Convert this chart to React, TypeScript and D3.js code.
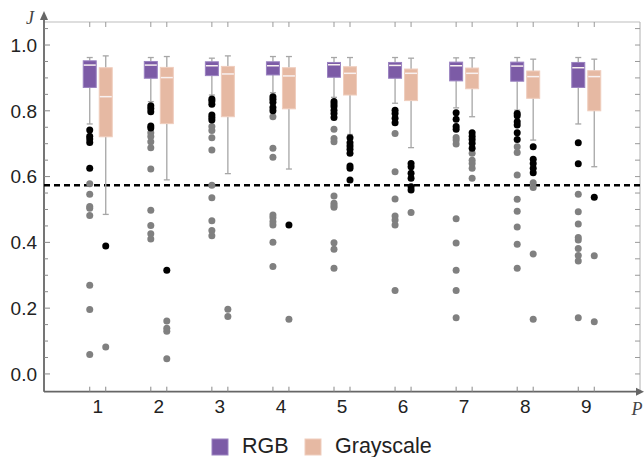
import React from "react";
import * as d3 from "d3";

// P = 1..9, each with an RGB and a Grayscale box
const categories = [1, 2, 3, 4, 5, 6, 7, 8, 9];

// [lower whisker, q1, median, q3, upper whisker]
const rgbStats = [
  [0.76, 0.871, 0.939, 0.952, 0.962],
  [0.828, 0.899, 0.939, 0.95, 0.962],
  [0.848, 0.907, 0.937, 0.949, 0.96],
  [0.855, 0.909, 0.937, 0.949, 0.965],
  [0.841, 0.902, 0.94, 0.947, 0.962],
  [0.823, 0.899, 0.938, 0.947, 0.962],
  [0.809, 0.891, 0.937, 0.948, 0.961],
  [0.802, 0.89, 0.936, 0.948, 0.962],
  [0.76, 0.871, 0.931, 0.947, 0.962],
];
const grayStats = [
  [0.485, 0.721, 0.843, 0.931, 0.967],
  [0.59, 0.761, 0.901, 0.932, 0.965],
  [0.609, 0.782, 0.912, 0.935, 0.967],
  [0.623, 0.806, 0.906, 0.931, 0.965],
  [0.728, 0.848, 0.914, 0.934, 0.962],
  [0.688, 0.831, 0.914, 0.927, 0.96],
  [0.782, 0.867, 0.914, 0.93, 0.961],
  [0.711, 0.838, 0.904, 0.921, 0.957],
  [0.63, 0.8, 0.904, 0.922, 0.957],
];

// near outliers (black) and far outliers (gray)
const rgbNear = [
  [0.742, 0.723, 0.714, 0.704, 0.625],
  [0.815, 0.807, 0.797, 0.754, 0.748],
  [0.836, 0.83, 0.82, 0.787, 0.78, 0.772],
  [0.843, 0.835, 0.826, 0.81, 0.8],
  [0.828, 0.821, 0.813, 0.802, 0.792, 0.78],
  [0.802, 0.792, 0.777, 0.764],
  [0.794, 0.774, 0.752, 0.744],
  [0.792, 0.785, 0.767, 0.757, 0.733, 0.713],
  [0.703, 0.639],
];
const rgbFar = [
  [0.578, 0.546, 0.509, 0.504, 0.482, 0.27, 0.196, 0.059],
  [0.733, 0.722, 0.706, 0.688, 0.623, 0.498, 0.451, 0.426, 0.41],
  [0.752, 0.74, 0.718, 0.681, 0.574, 0.536, 0.466, 0.436, 0.42],
  [0.782, 0.686, 0.659, 0.483, 0.475, 0.463, 0.453, 0.4, 0.327],
  [0.744, 0.716, 0.706, 0.541, 0.519, 0.512, 0.507, 0.399, 0.379, 0.321],
  [0.731, 0.615, 0.532, 0.48, 0.468, 0.453, 0.254],
  [0.719, 0.711, 0.699, 0.472, 0.398, 0.315, 0.254, 0.171],
  [0.691, 0.673, 0.605, 0.531, 0.495, 0.447, 0.394, 0.321],
  [0.546, 0.493, 0.456, 0.415, 0.407, 0.381, 0.36, 0.343, 0.171],
];
const grayNear = [
  [0.389],
  [0.315],
  [],
  [0.453],
  [0.718, 0.703, 0.693, 0.683, 0.671, 0.632, 0.625, 0.59],
  [0.64, 0.63, 0.61, 0.595, 0.569, 0.559],
  [0.733, 0.723, 0.713, 0.701, 0.686],
  [0.691, 0.653, 0.64, 0.625, 0.612],
  [0.537],
];
const grayFar = [
  [0.082],
  [0.161, 0.139, 0.13, 0.046],
  [0.197, 0.175],
  [0.166],
  [],
  [0.491],
  [0.671, 0.65, 0.64, 0.625, 0.595],
  [0.581, 0.567, 0.365, 0.166],
  [0.359, 0.159],
];

const threshold = 0.574;
const yTicks = [0, 0.2, 0.4, 0.6, 0.8, 1.0];
const seriesNames = ["RGB", "Grayscale"];
const seriesColors = ["#7c5ba6", "#e6b9a3"];
const seriesEdges = ["#9a82c0", "#efcdbd"];

const W = 644, H = 457;
const left = 44, right = 640, top = 22, bottom = 391.7;

export default function App() {
  const x = d3.scaleLinear().domain([0.12, 9.88]).range([left, right]);
  const y = d3.scaleLinear().domain([-0.054, 1.07]).range([bottom, top]);
  const offset = 8, bw = 13, capW = 6;
  const font = "'Liberation Sans', Arial, sans-serif";

  const minorTicks = d3.range(0, 21).map((i) => i * 0.05).concat([1.05]);
  const boxXs = categories.flatMap((c) => [x(c) - offset, x(c) + offset]);

  const renderBox = (s: number[], cx: number, si: number, key: string) => {
    const [lo, q1, med, q3, hi] = s;
    return (
      <g key={key}>
        <line x1={cx} x2={cx} y1={y(hi)} y2={y(q3)} stroke="#a6a6a6" strokeWidth={1.3} />
        <line x1={cx} x2={cx} y1={y(q1)} y2={y(lo)} stroke="#a6a6a6" strokeWidth={1.3} />
        <line x1={cx - capW / 2} x2={cx + capW / 2} y1={y(hi)} y2={y(hi)} stroke="#a6a6a6" strokeWidth={1.3} />
        <line x1={cx - capW / 2} x2={cx + capW / 2} y1={y(lo)} y2={y(lo)} stroke="#a6a6a6" strokeWidth={1.3} />
        <rect x={cx - bw / 2} y={y(q3)} width={bw} height={y(q1) - y(q3)}
          fill={seriesColors[si]} stroke={seriesEdges[si]} strokeWidth={1} />
        <line x1={cx - bw / 2 + 0.5} x2={cx + bw / 2 - 0.5} y1={y(med)} y2={y(med)} stroke="#f8f0f0" strokeWidth={1.5} />
      </g>
    );
  };

  const renderDots = (vals: number[], cx: number, color: string, key: string) =>
    vals.map((v, i) => <circle key={key + i} cx={cx} cy={y(v)} r={3.5} fill={color} />);

  return (
    <svg width={W} height={H} style={{ position: "absolute", left: 0, top: 0, background: "#fff" }}>
      {/* frame top and right */}
      <line x1={left} x2={right} y1={top} y2={top} stroke="#bdbdbd" strokeWidth={1} />
      <line x1={right} x2={right} y1={top} y2={bottom} stroke="#b0b0b0" strokeWidth={1} />
      {boxXs.map((bx, i) => (
        <line key={"tt" + i} x1={bx} x2={bx} y1={top} y2={top + 5} stroke="#999" strokeWidth={1} />
      ))}
      {minorTicks.map((t, i) => (
        <line key={"rt" + i} x1={right} x2={right - 5} y1={y(t)} y2={y(t)} stroke="#999" strokeWidth={1} />
      ))}

      {/* left axis */}
      <line x1={left} x2={left} y1={bottom} y2={16} stroke="#666" strokeWidth={1.8} />
      <path d={`M${left - 4},${20} L${left},${11} L${left + 4},${20} Z`} fill="#666" />
      {minorTicks.map((t, i) => {
        const major = yTicks.some((m) => Math.abs(m - t) < 1e-6);
        return (
          <line key={"lt" + i} x1={left} x2={left + (major ? 6 : 4)} y1={y(t)} y2={y(t)} stroke="#888" strokeWidth={1} />
        );
      })}
      {yTicks.map((t) => (
        <text key={"yl" + t} x={37} y={y(t)} dy="0.36em" textAnchor="end" fontFamily={font} fontSize={19} fill="#222">
          {d3.format(".1f")(t)}
        </text>
      ))}
      <text x={30} y={24} textAnchor="middle" fontFamily="'Liberation Serif', serif" fontStyle="italic" fontSize={18} fill="#444">J</text>

      {/* bottom axis */}
      <line x1={left} x2={639} y1={bottom} y2={bottom} stroke="#666" strokeWidth={1.8} />
      <path d={`M${636},${bottom - 4} L${644},${bottom} L${636},${bottom + 4} Z`} fill="#666" />
      {boxXs.map((bx, i) => (
        <line key={"bt" + i} x1={bx} x2={bx} y1={bottom} y2={bottom - 5} stroke="#888" strokeWidth={1} />
      ))}
      {categories.map((c) => (
        <text key={"xl" + c} x={x(c)} y={413} textAnchor="middle" fontFamily={font} fontSize={19} fill="#222">
          {c}
        </text>
      ))}
      <text x={637} y={415} textAnchor="middle" fontFamily="'Liberation Serif', serif" fontStyle="italic" fontSize={18} fill="#444">P</text>

      {/* threshold */}
      <line x1={left} x2={right} y1={y(threshold)} y2={y(threshold)} stroke="#000" strokeWidth={2.5} strokeDasharray="6,4" />

      {/* boxes */}
      {categories.map((c, i) => (
        <g key={"c" + c}>
          {renderBox(rgbStats[i], x(c) - offset, 0, "rb" + c)}
          {renderBox(grayStats[i], x(c) + offset, 1, "gb" + c)}
          {renderDots(rgbFar[i], x(c) - offset, "#808080", "rf" + c)}
          {renderDots(rgbNear[i], x(c) - offset, "#000", "rn" + c)}
          {renderDots(grayFar[i], x(c) + offset, "#808080", "gf" + c)}
          {renderDots(grayNear[i], x(c) + offset, "#000", "gn" + c)}
        </g>
      ))}

      {/* legend */}
      {seriesNames.map((n, i) => {
        const lx = i === 0 ? 212 : 305;
        return (
          <g key={"lg" + n}>
            <rect x={lx} y={439} width={16} height={16} fill={seriesColors[i]} stroke={seriesEdges[i]} strokeWidth={1} />
            <text x={lx + 30} y={453} fontFamily={font} fontSize={21.5} fill="#222">{n}</text>
          </g>
        );
      })}
    </svg>
  );
}
